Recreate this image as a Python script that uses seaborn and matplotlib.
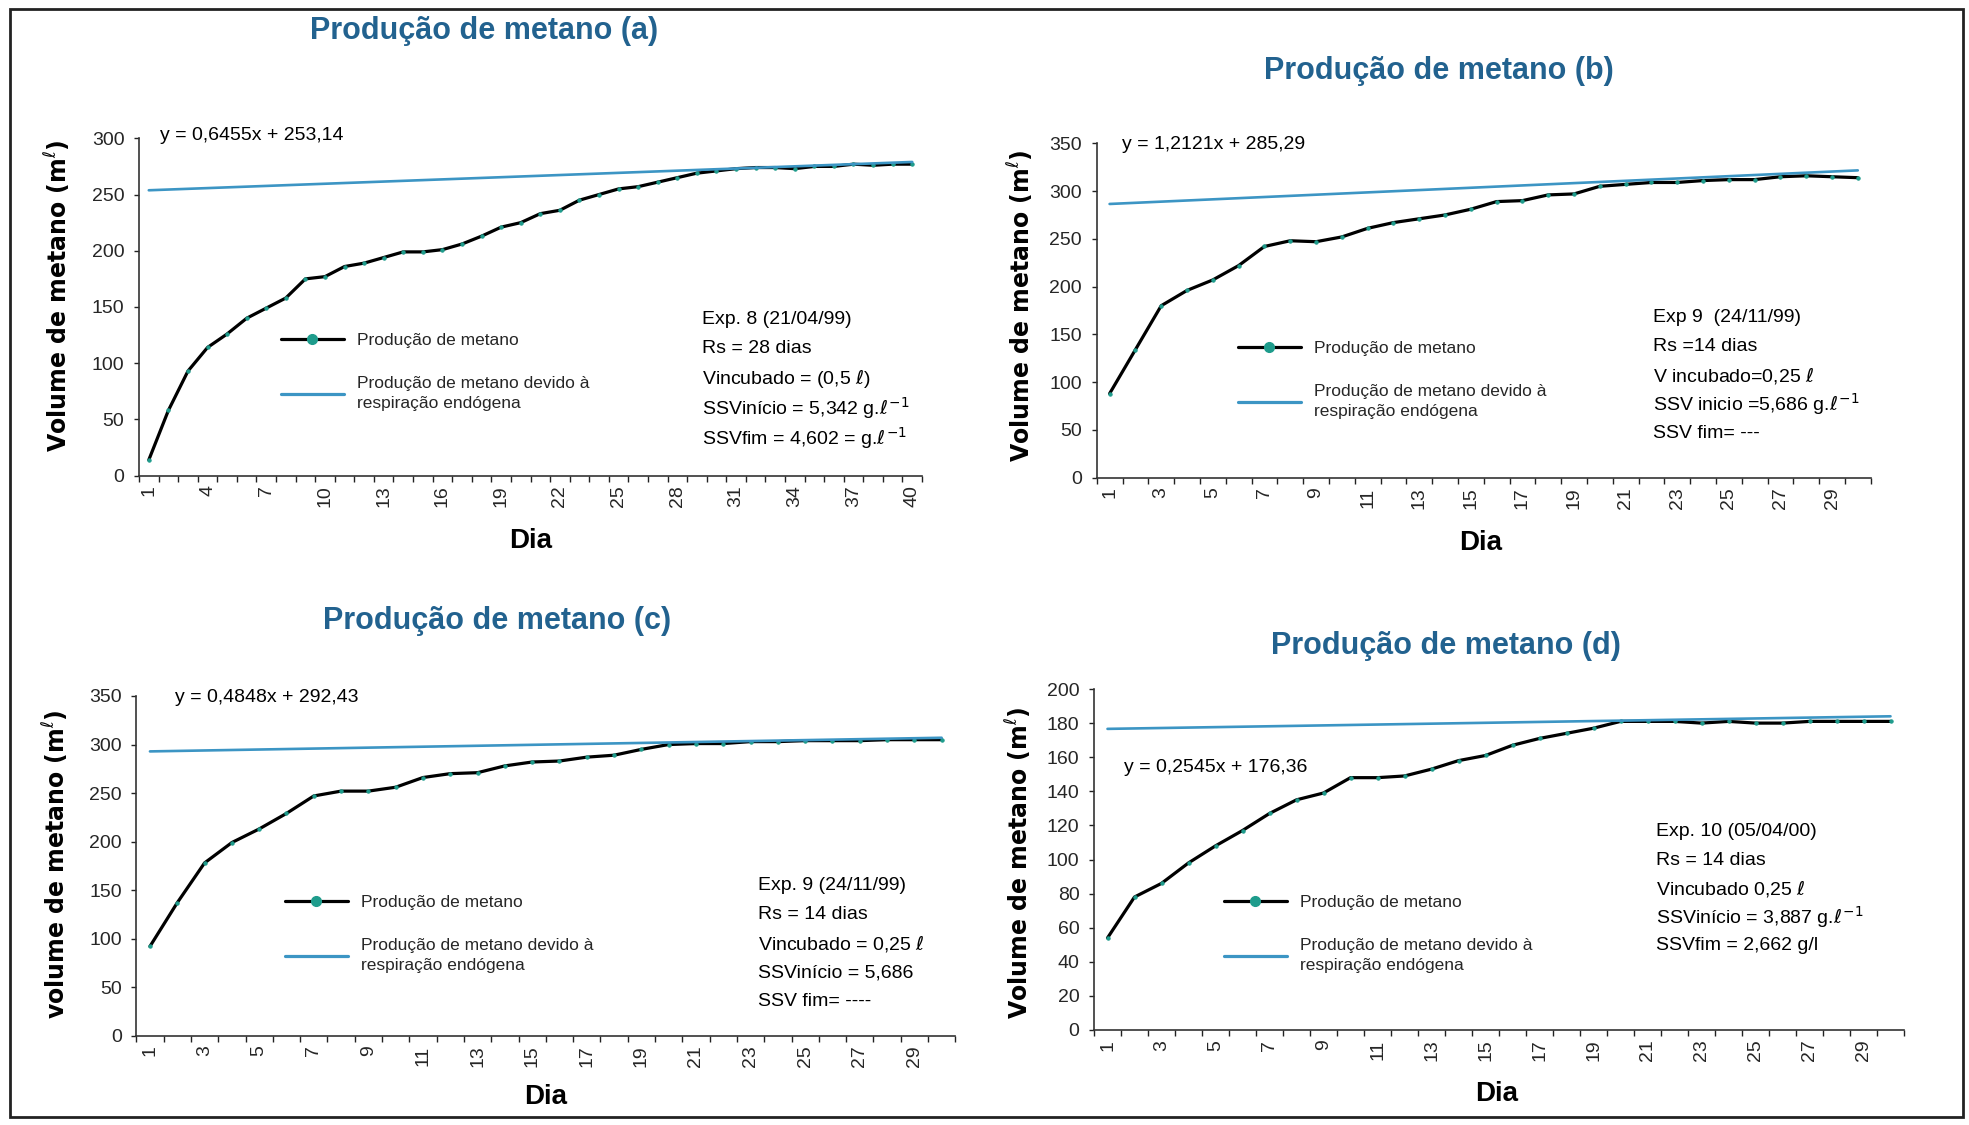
import numpy as np
import pandas as pd
import matplotlib
matplotlib.use("Agg")
import matplotlib.pyplot as plt
from matplotlib.lines import Line2D
from matplotlib.patches import Rectangle
import seaborn as sns

# ---- data: cumulative methane volume (mL) per day -------------------------
dias_a = list(range(1, 41))
metano_a = [14, 58, 93, 114, 126, 140, 149, 158, 175, 177, 186, 189, 194, 199, 199,
            201, 206, 213, 221, 225, 233, 236, 245, 250, 255, 257, 261, 265, 269, 271,
            273, 274, 274, 273, 275, 275, 277, 276, 277, 277]

dias_b = list(range(1, 31))
metano_b = [88, 134, 180, 196, 207, 222, 242, 248, 247, 252, 261, 267, 271, 275, 281,
            289, 290, 296, 297, 305, 307, 309, 309, 311, 312, 312, 315, 316, 315, 314]

dias_c = list(range(1, 31))
metano_c = [92, 137, 178, 199, 213, 229, 247, 252, 252, 256, 266, 270, 271, 278, 282,
            283, 287, 289, 295, 300, 301, 301, 303, 303, 304, 304, 304, 305, 305, 305]

dias_d = list(range(1, 31))
metano_d = [54, 78, 86, 98, 108, 117, 127, 135, 139, 148, 148, 149, 153, 158, 161,
            167, 171, 174, 177, 181, 181, 181, 180, 181, 180, 180, 181, 181, 181, 181]

# endogenous-respiration trend lines (slope, intercept)
tend_a = (0.6455, 253.14)
tend_b = (1.2121, 285.29)
tend_c = (0.4848, 292.43)
tend_d = (0.2545, 176.36)

titulos = ["Produção de metano (a)", "Produção de metano (b)",
           "Produção de metano (c)", "Produção de metano (d)"]
equacoes = ["y = 0,6455x + 253,14", "y = 1,2121x + 285,29",
            "y = 0,4848x + 292,43", "y = 0,2545x + 176,36"]
rotulos_y = [r"Volume de metano (m$^{\ell}$)", r"Volume de metano (m$^{\ell}$)",
             r"volume de metano (m$^{\ell}$)", r"Volume de metano (m$^{\ell}$)"]
info_a = ["Exp. 8 (21/04/99)", "Rs = 28 dias", r"Vincubado = (0,5 $\ell$)",
          r"SSVinício = 5,342 g.$\ell^{-1}$", r"SSVfim = 4,602 = g.$\ell^{-1}$"]
info_b = ["Exp 9  (24/11/99)", "Rs =14 dias", r"V incubado=0,25 $\ell$",
          r"SSV inicio =5,686 g.$\ell^{-1}$", "SSV fim= ---"]
info_c = ["Exp. 9 (24/11/99)", "Rs = 14 dias", r"Vincubado = 0,25 $\ell$",
          "SSVinício = 5,686", "SSV fim= ----"]
info_d = ["Exp. 10 (05/04/00)", "Rs = 14 dias", r"Vincubado 0,25 $\ell$",
          r"SSVinício = 3,887 g.$\ell^{-1}$", "SSVfim = 2,662 g/l"]
leg_labels = ["Produção de metano", "Produção de metano devido à\nrespiração endógena"]

# ---- style -----------------------------------------------------------------
sns.set_theme(style="white")
plt.rcParams["font.family"] = ["Liberation Sans", "DejaVu Sans"]
plt.rcParams["mathtext.fontset"] = "dejavusans"

W, H = 1969, 1125
fig = plt.figure(figsize=(W / 100, H / 100), dpi=100)
fig.patch.set_facecolor("white")

TITLE_C = "#22628F"
BLUE = "#3C95C4"
TEAL = "#1E9C8C"


def fx(x):
    return x / W


def fy(y):
    return 1 - y / H


panels = [
    dict(dias=dias_a, vals=metano_a, tend=tend_a, box=(139, 922, 138.3, 475.7), ymax=300, ystep=50,
         lab_step=3, title=(484, 31), eq=(160, 135), ylab=(58, 296), xlab=(531, 541),
         leg=(281, 344), info=(702, 319, 29.8), infotxt=info_a),
    dict(dias=dias_b, vals=metano_b, tend=tend_b, box=(1096.7, 1870.7, 143.3, 477.7), ymax=350, ystep=50,
         lab_step=2, title=(1439, 71), eq=(1122, 145), ylab=(1021, 306), xlab=(1481, 543),
         leg=(1238, 352), info=(1653, 318, 28.8), infotxt=info_b),
    dict(dias=dias_c, vals=metano_c, tend=tend_c, box=(136.3, 955.3, 696, 1035.7), ymax=350, ystep=50,
         lab_step=2, title=(497, 621), eq=(175, 697), ylab=(56, 864), xlab=(546, 1097),
         leg=(285, 906), info=(758, 885, 29.2), infotxt=info_c),
    dict(dias=dias_d, vals=metano_d, tend=tend_d, box=(1094, 1904, 689, 1030), ymax=200, ystep=20,
         lab_step=2, title=(1446, 646), eq=(1124, 767), ylab=(1019, 863), xlab=(1497, 1094),
         leg=(1224, 906), info=(1656, 832, 28.4), infotxt=info_d),
]

for i, p in enumerate(panels):
    l, r, t, b = p["box"]
    ax = fig.add_axes([fx(l), fy(b), (r - l) / W, (b - t) / H])
    n = len(p["dias"])
    df = pd.DataFrame({"Dia": p["dias"], "Volume": p["vals"]})
    dias = np.array(p["dias"], dtype=float)
    df_t = pd.DataFrame({"Dia": dias, "Volume": p["tend"][0] * dias + p["tend"][1]})

    sns.lineplot(data=df, x="Dia", y="Volume", ax=ax, color="black", lw=2.3,
                 marker="o", markersize=2.4, markerfacecolor=TEAL, markeredgecolor=TEAL,
                 zorder=3)
    sns.lineplot(data=df_t, x="Dia", y="Volume", ax=ax, color=BLUE, lw=1.9, zorder=4)

    ax.set_xlim(0.5, n + 0.5)
    ax.set_ylim(0, p["ymax"])
    ax.set_yticks(np.arange(0, p["ymax"] + 1, p["ystep"]))
    ax.set_xticks(np.arange(0.5, n + 1, 1.0))
    ax.set_xticklabels([])
    lab_days = list(range(1, n + 1, p["lab_step"]))
    ax.set_xticks(lab_days, [str(d) for d in lab_days], minor=True)
    ax.tick_params(axis="x", which="minor", length=0, pad=7, labelsize=14, labelrotation=90)
    ax.tick_params(axis="x", which="major", length=4.5, width=1, color="#222222", direction="out")
    ax.tick_params(axis="y", which="major", length=3.5, width=1, color="#222222", direction="out",
                   pad=7, labelsize=14)
    ax.tick_params(bottom=True, left=True)
    for s in ["top", "right"]:
        ax.spines[s].set_visible(False)
    for s in ["left", "bottom"]:
        ax.spines[s].set_color("#333333")
        ax.spines[s].set_linewidth(1.2)
    ax.set_xlabel("")
    ax.set_ylabel("")
    ax.set_facecolor("none")

    # legend
    handles = [Line2D([], [], color="black", lw=2.3, marker="o", markersize=7,
                      markerfacecolor=TEAL, markeredgecolor=TEAL),
               Line2D([], [], color=BLUE, lw=2.3)]
    lx, ly = p["leg"]
    leg = ax.legend(handles, leg_labels, loc="upper left",
                    bbox_to_anchor=(fx(lx), fy(ly - 11)), bbox_transform=fig.transFigure,
                    frameon=False, fontsize=12.5, handlelength=3.6, handletextpad=0.75,
                    labelspacing=1.6, borderpad=0, borderaxespad=0)
    for txt in leg.get_texts():
        txt.set_linespacing(1.45)

    # texts
    tx, ty = p["title"]
    fig.text(fx(tx), fy(ty), titulos[i], ha="center", va="center", fontsize=22,
             fontweight="bold", color=TITLE_C)
    ex, ey = p["eq"]
    fig.text(fx(ex), fy(ey), equacoes[i], ha="left", va="center", fontsize=14, color="black")
    yx, yy = p["ylab"]
    fig.text(fx(yx), fy(yy), rotulos_y[i], ha="center", va="center", rotation=90,
             fontsize=17, fontweight="bold", color="black", family=["DejaVu Sans"])
    xx, xy = p["xlab"]
    fig.text(fx(xx), fy(xy), "Dia", ha="center", va="center", fontsize=20,
             fontweight="bold", color="black")
    ix, iy, isp = p["info"]
    for k, line in enumerate(p["infotxt"]):
        fig.text(fx(ix), fy(iy + k * isp), line, ha="left", va="center", fontsize=14,
                 color="black")

# outer frame
fig.patches.append(Rectangle((fx(10), fy(1117)), (1963 - 10) / W, (1117 - 9) / H,
                             transform=fig.transFigure, fill=False, lw=2,
                             edgecolor="#222222"))

fig.savefig("out.png", dpi=100, facecolor="white")
